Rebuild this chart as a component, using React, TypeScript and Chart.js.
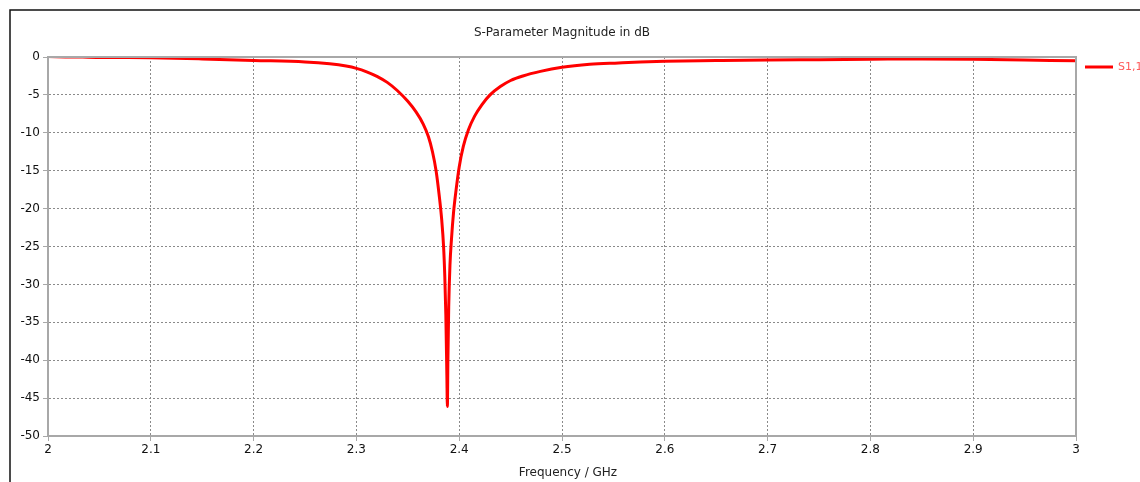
import React, { useEffect, useRef } from "react";
import { Chart, registerables } from "chart.js";

Chart.register(...registerables);

const freqGHz = [
  2.0, 2.03, 2.05, 2.1, 2.15, 2.2, 2.25, 2.274, 2.29, 2.3, 2.31, 2.32, 2.33, 2.34, 2.35, 2.358, 2.365, 2.37,
  2.374, 2.3775, 2.3805, 2.383, 2.3848, 2.386, 2.387, 2.388, 2.3885, 2.389, 2.3898, 2.391, 2.3925, 2.3945,
  2.397, 2.4, 2.404, 2.409, 2.415, 2.422, 2.43, 2.44, 2.45, 2.462, 2.479, 2.5, 2.527, 2.555, 2.576, 2.6,
  2.65, 2.7, 2.75, 2.8, 2.85, 2.9, 2.95, 3.0,
];
const s11dB = [
  0.05, 0.03, -0.05, -0.1, -0.25, -0.45, -0.65, -0.9, -1.2, -1.5, -1.95, -2.55, -3.35, -4.45, -5.85, -7.25, -8.85, -10.5,
  -12.5, -15.0, -18.2, -21.5, -25, -29, -34, -42, -46.1, -40, -33, -27.5, -24, -20.5,
  -17.5, -14.5, -11.8, -9.6, -7.8, -6.3, -5.0, -3.9, -3.1, -2.5, -1.9, -1.36, -0.97, -0.78, -0.65, -0.55,
  -0.47, -0.4, -0.35, -0.3, -0.25, -0.3, -0.4, -0.5,
];

const seriesLabel = "S1,1";
const chartTitle = "S-Parameter Magnitude in dB";
const xAxisTitle = "Frequency / GHz";

const FONT = "'DejaVu Sans', sans-serif";

const decorPlugin = {
  id: "decor",
  beforeDraw(chart: any) {
    const ctx = chart.ctx;
    ctx.save();
    ctx.fillStyle = "#ffffff";
    ctx.fillRect(0, 0, chart.width, chart.height);
    ctx.strokeStyle = "#111";
    ctx.lineWidth = 1.5;
    ctx.beginPath();
    ctx.moveTo(10, chart.height);
    ctx.lineTo(10, 10);
    ctx.lineTo(chart.width, 10);
    ctx.stroke();
    ctx.restore();
  },
  afterDatasetsDraw(chart: any) {
    const ctx = chart.ctx;
    const a = chart.chartArea;
    ctx.save();
    ctx.strokeStyle = "#a8a8a8";
    ctx.lineWidth = 2;
    ctx.beginPath();
    ctx.moveTo(a.left, a.top);
    ctx.lineTo(a.right, a.top);
    ctx.lineTo(a.right, a.bottom);
    ctx.stroke();
    ctx.restore();
  },
  afterDraw(chart: any) {
    const ctx = chart.ctx;
    const a = chart.chartArea;
    ctx.save();
    ctx.fillStyle = "#222";
    ctx.font = `12px ${FONT}`;
    ctx.textAlign = "center";
    ctx.textBaseline = "middle";
    ctx.fillText(chartTitle, (a.left + a.right) / 2, 33);
    ctx.fillText(xAxisTitle, (a.left + a.right) / 2 + 6, 473);
    const ds = chart.data.datasets[0];
    ctx.strokeStyle = ds.borderColor;
    ctx.lineWidth = 3;
    ctx.beginPath();
    ctx.moveTo(a.right + 9, a.top + 10);
    ctx.lineTo(a.right + 37, a.top + 10);
    ctx.stroke();
    ctx.fillStyle = "#ff5a5a";
    ctx.font = `11px ${FONT}`;
    ctx.textAlign = "left";
    ctx.fillText(ds.label, a.right + 42, a.top + 10);
    ctx.restore();
  },
};

export default function App() {
  const ref = useRef<HTMLCanvasElement | null>(null);
  useEffect(() => {
    if (!ref.current) return;
    const points = freqGHz.map((f, i) => ({ x: f, y: s11dB[i] }));
    const chart = new Chart(ref.current, {
      type: "line",
      data: {
        datasets: [
          {
            label: seriesLabel,
            data: points,
            borderColor: "#ff0000",
            backgroundColor: "#ff0000",
            borderWidth: 3,
            pointRadius: 0,
            cubicInterpolationMode: "monotone",
            fill: false,
          },
        ],
      },
      options: {
        responsive: false,
        animation: false,
        layout: { padding: { left: 0, right: 64, top: 57, bottom: 0 } },
        plugins: {
          legend: { display: false },
          title: { display: false },
          tooltip: { enabled: false },
        },
        scales: {
          x: {
            type: "linear",
            min: 2,
            max: 3,
            afterFit: (s: any) => {
              s.height = 46;
            },
            ticks: {
              stepSize: 0.1,
              color: "#111",
              font: { family: FONT, size: 12 },
              padding: 2,
              maxRotation: 0,
              callback: (v: any) => String(Math.round(Number(v) * 10) / 10),
            },
            grid: { color: "#8a8a8a", lineWidth: 1, tickLength: 5, tickColor: "#a8a8a8", tickBorderDash: [] },
            border: { display: true, color: "#a8a8a8", width: 2, dash: [2, 2] },
          },
          y: {
            type: "linear",
            min: -50,
            max: 0,
            afterFit: (s: any) => {
              s.width = 48;
            },
            ticks: {
              stepSize: 5,
              color: "#111",
              font: { family: FONT, size: 12 },
              padding: 3,
            },
            grid: { color: "#8a8a8a", lineWidth: 1, tickLength: 5, tickColor: "#a8a8a8", tickBorderDash: [] },
            border: { display: true, color: "#a8a8a8", width: 2, dash: [2, 2] },
          },
        },
      },
      plugins: [decorPlugin],
    } as any);
    return () => chart.destroy();
  }, []);
  return (
    <div style={{ position: "absolute", left: 0, top: 0, width: 1140, height: 482 }}>
      <canvas ref={ref} width={1140} height={482} style={{ width: 1140, height: 482, display: "block" }} />
    </div>
  );
}
